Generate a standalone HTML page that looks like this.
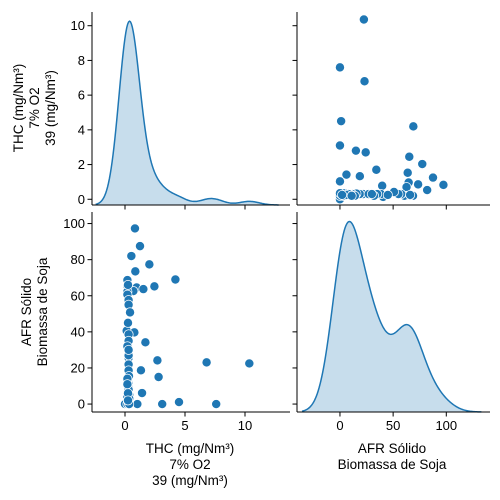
<!DOCTYPE html>
<html><head><meta charset="utf-8"><style>
body{margin:0;background:#fff}
svg{display:block;font-family:"Liberation Sans","DejaVu Sans",sans-serif}
</style></head><body>
<svg id="c" width="500" height="500"></svg>
<script>
const thcValues=[0.83,1.25,0.53,2.03,0.86,4.2,0.2,0.2,0.97,2.45,1.53,0.7,0.2,0.2,0.3,0.3,0.42,0.14,0.78,0.3,0.3,1.7,0.2,0.3,0.3,2.7,6.8,10.36,0.3,0.3,1.33,0.33,2.8,0.3,0.3,1.42,0.0,0.3,1.03,3.1,4.5,7.6,0.25,0.25,0.2,0.3,0.2,
0.2,0.35,0.25,0.2,0.25,0.2,0.3,0.35,0.25,0.2,0.3,0.25,0.3,0.3,0.25,0.2,0.35,0.25];
const afrValues=[97.3,87.5,82,77.4,73.5,69,68.7,65.4,64.6,65.2,63.7,62.6,62.3,60.6,57.6,55,50.8,40.6,39.7,38.6,35,34.2,32,29.3,25.6,24.2,23.1,22.5,21.9,18.6,18.7,15.5,15,11.6,8.3,6.1,0,0,0,0,1.1,0,5,45,3,27,12,
0,5,10,12,2,4,9,3,7,14,30,66,8,1,6,11,0,2];
const thcTicks=[0,5,10];
const thcYTicks=[0,2,4,6,8,10];
const afrTicks=[0,50,100];
const afrYTicks=[0,20,40,60,80,100];

const NS='http://www.w3.org/2000/svg';
const svg=document.getElementById('c');
function mk(t,a,p){const e=document.createElementNS(NS,t);for(const k in a)e.setAttribute(k,a[k]);(p||svg).appendChild(e);return e;}
const colL={x0:92,x1:290,d0:-2.75,d1:13.75};
const colR={x0:297,x1:490,d0:-40.4,d1:141.1};
const rowT={y0:205,y1:12,d0:-0.33,d1:10.79};
const rowB={y0:412,y1:212,d0:-4.4,d1:106.4};
const sx=(c,v)=>c.x0+(v-c.d0)/(c.d1-c.d0)*(c.x1-c.x0);
const sy=(r,v)=>r.y0+(v-r.d0)/(r.d1-r.d0)*(r.y1-r.y0);

function axes(c,r,name,xt,yt,xl,yl){
  const g=mk('g',{});
  
  
  mk('line',{x1:c.x0,y1:r.y0,x2:c.x1,y2:r.y0,stroke:'#000','stroke-width':1},g);
  mk('line',{x1:c.x0,y1:r.y0,x2:c.x0,y2:r.y1,stroke:'#000','stroke-width':1},g);
  xt.forEach(v=>{const x=sx(c,v);mk('line',{x1:x,y1:r.y0,x2:x,y2:r.y0+4.5,stroke:'#000'},g);
    if(xl){const t=mk('text',{x:x,y:r.y0+18,'text-anchor':'middle','font-size':13},g);t.textContent=v;}});
  yt.forEach(v=>{const y=sy(r,v);mk('line',{x1:c.x0,y1:y,x2:c.x0-4.5,y2:y,stroke:'#000'},g);
    if(yl){const t=mk('text',{x:c.x0-7,y:y+4.5,'text-anchor':'end','font-size':13},g);t.textContent=v;}});
  return g;
}
function scatter(c,r,xs,ys,name){
  const g=mk('g',{});
  
  
  xs.forEach((v,i)=>{const p=mk('circle',{cx:sx(c,v),cy:sy(r,ys[i]),r:4.6,fill:'#1f77b4',stroke:'#fff','stroke-width':0.75},g);
    
    });
}
function kde(vals,c,top,bottom,name){
  const n=vals.length,m=vals.reduce((a,b)=>a+b)/n;
  const sd=Math.sqrt(vals.reduce((a,b)=>a+(b-m)*(b-m),0)/(n-1));
  const bw=sd*Math.pow(n,-0.2);
  const lo=Math.min(...vals)-3*bw,hi=Math.max(...vals)+3*bw;
  const pts=[];let mx=0;
  for(let i=0;i<=200;i++){const x=lo+(hi-lo)*i/200;let s=0;vals.forEach(v=>{const z=(x-v)/bw;s+=Math.exp(-z*z/2);});
    s/=n*bw*Math.sqrt(2*Math.PI);pts.push([x,s]);if(s>mx)mx=s;}
  const h=(bottom-top)/1.05;
  const P=pts.map(p=>[sx(c,p[0]),bottom-p[1]/mx*h]);
  const line=P.map((p,i)=>(i?'L':'M')+p[0].toFixed(2)+','+p[1].toFixed(2)).join('');
  const a=mk('path',{d:line+'L'+P[P.length-1][0]+','+bottom+'L'+P[0][0]+','+bottom+'Z',fill:'#1f77b4','fill-opacity':0.25});
  
  
  const l=mk('path',{d:line,fill:'none',stroke:'#1f77b4','stroke-width':1.5});
  
  
}
kde(thcValues,colL,12,205,'thc-kde');
kde(afrValues,colR,212,412,'afr-kde');
scatter(colR,rowT,afrValues,thcValues,'afr-vs-thc-scatter');
scatter(colL,rowB,thcValues,afrValues,'thc-vs-afr-scatter');
axes(colL,rowT,'thc-diag-axes',thcTicks,thcYTicks,false,true);
axes(colR,rowT,'top-right-axes',afrTicks,thcYTicks,false,false);
axes(colL,rowB,'bottom-left-axes',thcTicks,afrYTicks,true,true);
axes(colR,rowB,'afr-diag-axes',afrTicks,afrYTicks,true,false);

function label(lines,x,y,rot,name){
  const t=mk('text',{'text-anchor':'middle','font-size':13.5,transform:rot?`translate(${x},${y}) rotate(-90)`:`translate(${x},${y})`});
  
  
  lines.forEach((s,i)=>{const ts=mk('tspan',{x:0,dy:i?16:0},t);ts.textContent=s;});
}
label(['THC (mg/Nm³)','7% O2','39 (mg/Nm³)'],23,108,true,'y-axis-title-thc');
label(['AFR Sólido','Biomassa de Soja'],31,312,true,'y-axis-title-afr');
label(['THC (mg/Nm³)','7% O2','39 (mg/Nm³)'],190,453,false,'x-axis-title-thc');
label(['AFR Sólido','Biomassa de Soja'],392,453,false,'x-axis-title-afr');
</script>
</body></html>
